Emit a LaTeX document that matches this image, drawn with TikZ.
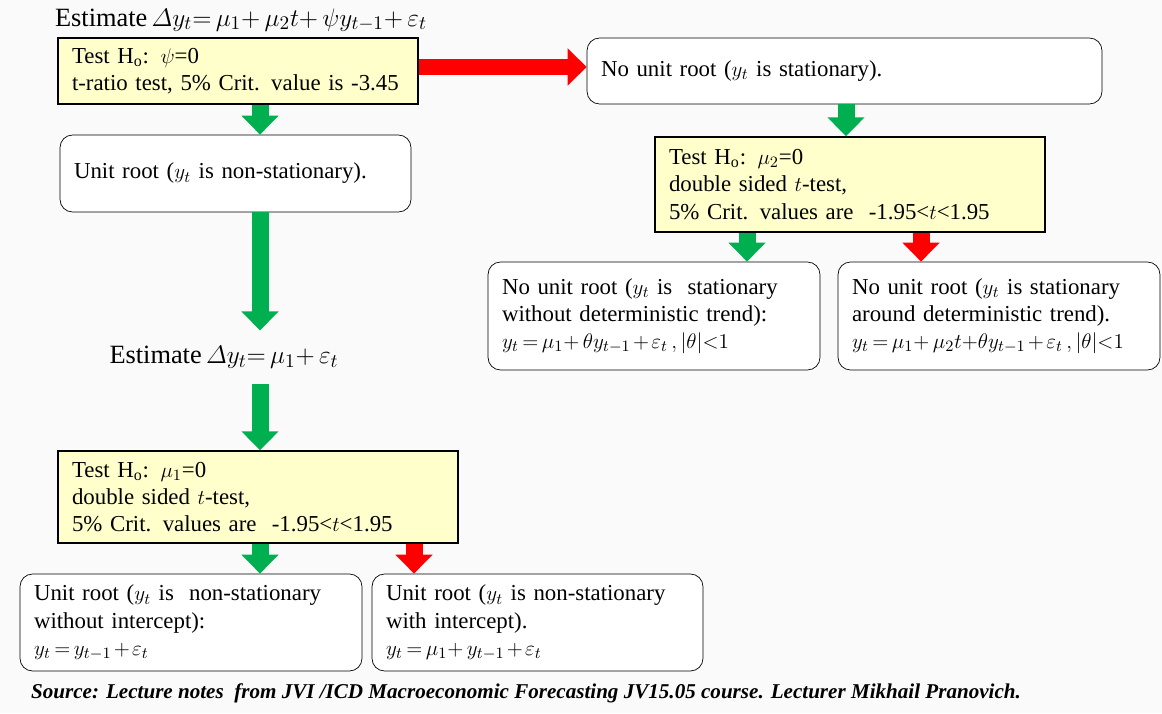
\documentclass[tikz,border=0pt]{standalone}
\usepackage{amsmath}
\usepackage{fontspec}
\setmainfont{Liberation Serif}
\usetikzlibrary{arrows.meta}
\definecolor{testyellow}{RGB}{255,255,204}
\definecolor{okgreen}{RGB}{0,176,80}
\definecolor{nored}{RGB}{255,0,0}
\definecolor{bggray}{RGB}{250,250,250}
\medmuskip=2mu plus 1mu
\thickmuskip=3mu plus 1mu
\tikzset{
  test/.style={draw, line width=0.8pt, fill=testyellow, align=left, inner xsep=0.28cm, font=\fontsize{13}{15.5}\selectfont},
  result/.style={draw, rounded corners=0.25cm, fill=white, align=left, inner xsep=0.28cm, font=\fontsize{13}{15.5}\selectfont},
  estim/.style={font=\fontsize{15}{17}\selectfont, inner ysep=0.3cm},
  garrow/.style={draw=okgreen, line width=0.34cm, -{Triangle[length=0.38cm,width=0.72cm]}},
  rarrow/.style={garrow, draw=nored}
}
\begin{document}
\begin{tikzpicture}[x=0.02cm, y=-0.02cm]
\fill[bggray] (0,0) rectangle (1162,713);
\useasboundingbox (0,0) rectangle (1162,713);
% columns of the arrows
\coordinate (lcol) at (260,0);
\coordinate (lred) at (414,0);
\coordinate (rcol) at (846,0);
\coordinate (rgreen) at (747,0);
\coordinate (rred) at (921,0);
\coordinate (redrow) at (0,67);

\node (est1) at (241,20) [estim] {Estimate\,$\varDelta y_t{=}\,\mu_1{+}\,\mu_2 t{+}\;\psi y_{t-1}{+}\,\varepsilon_t$};
\node (t1) at (238,71) [test, text width=6.64cm, minimum height=1.32cm] {Test H\textsubscript{o}: $\psi$=0\\ t-ratio test, 5\% Crit. value is -3.45};
\node (n1) at (844.5,71) [result, text width=9.74cm, minimum height=1.32cm] {No unit root ($y_t$ is stationary).};
\node (u1) at (235.5,173.5) [result, text width=6.46cm, minimum height=1.54cm] {Unit root ($y_t$ is non-stationary).};
\node (est2) at (224,357) [estim] {Estimate\,$\varDelta y_t{=}\,\mu_1{+}\,\varepsilon_t$};
\node (t3) at (258,497) [test, text width=7.44cm, minimum height=1.84cm] {Test H\textsubscript{o}: $\mu_1$=0\\ double sided $t$-test,\\ 5\% Crit. values are \ -1.95<$t$<1.95};
\node (l1) at (191,622.5) [result, text width=6.28cm, minimum height=1.94cm] {Unit root ($y_t$ is \ non-stationary\\ without intercept):\\ $y_t = y_{t-1} + \varepsilon_t$};
\node (l2) at (537.5,622.5) [result, text width=6.06cm, minimum height=1.94cm] {Unit root ($y_t$ is non-stationary\\ with intercept).\\ $y_t = \mu_1{+}\, y_{t-1} + \varepsilon_t$};
\node (t2) at (850,184.5) [test, text width=7.24cm, minimum height=1.9cm] {Test H\textsubscript{o}: $\mu_2$=0\\ double sided $t$-test,\\ 5\% Crit. values are \ -1.95<$t$<1.95};
\node (r1) at (654,316) [result, text width=6.08cm, minimum height=2.16cm] {No unit root ($y_t$ is \ stationary\\ without deterministic trend):\\ $y_t = \mu_1{+}\,\theta y_{t-1} + \varepsilon_t\,, |\theta|{<}1$};
\node (r2) at (999,316) [result, text width=5.88cm, minimum height=2.16cm] {No unit root ($y_t$ is stationary\\ around deterministic trend).\\ $y_t = \mu_1{+}\,\mu_2 t{+}\theta y_{t-1} + \varepsilon_t\,, |\theta|{<}1$};
\node (src) at (526,693) [font=\bfseries\itshape\fontsize{12}{14}\selectfont] {Source: Lecture notes \ from JVI /ICD Macroeconomic Forecasting JV15.05 course. Lecturer Mikhail Pranovich.};

\draw[rarrow] (t1.east |- redrow) -- (n1.west |- redrow);
\draw[garrow] (t1.south -| lcol) -- (u1.north -| lcol);
\draw[garrow] (u1.south -| lcol) -- (est2.north -| lcol);
\draw[garrow] (est2.south -| lcol) -- (t3.north -| lcol);
\draw[garrow] (t3.south -| lcol) -- (l1.north -| lcol);
\draw[rarrow] (t3.south -| lred) -- (l2.north -| lred);
\draw[garrow] (n1.south -| rcol) -- (t2.north -| rcol);
\draw[garrow] (t2.south -| rgreen) -- (r1.north -| rgreen);
\draw[rarrow] (t2.south -| rred) -- (r2.north -| rred);
\end{tikzpicture}
\end{document}
